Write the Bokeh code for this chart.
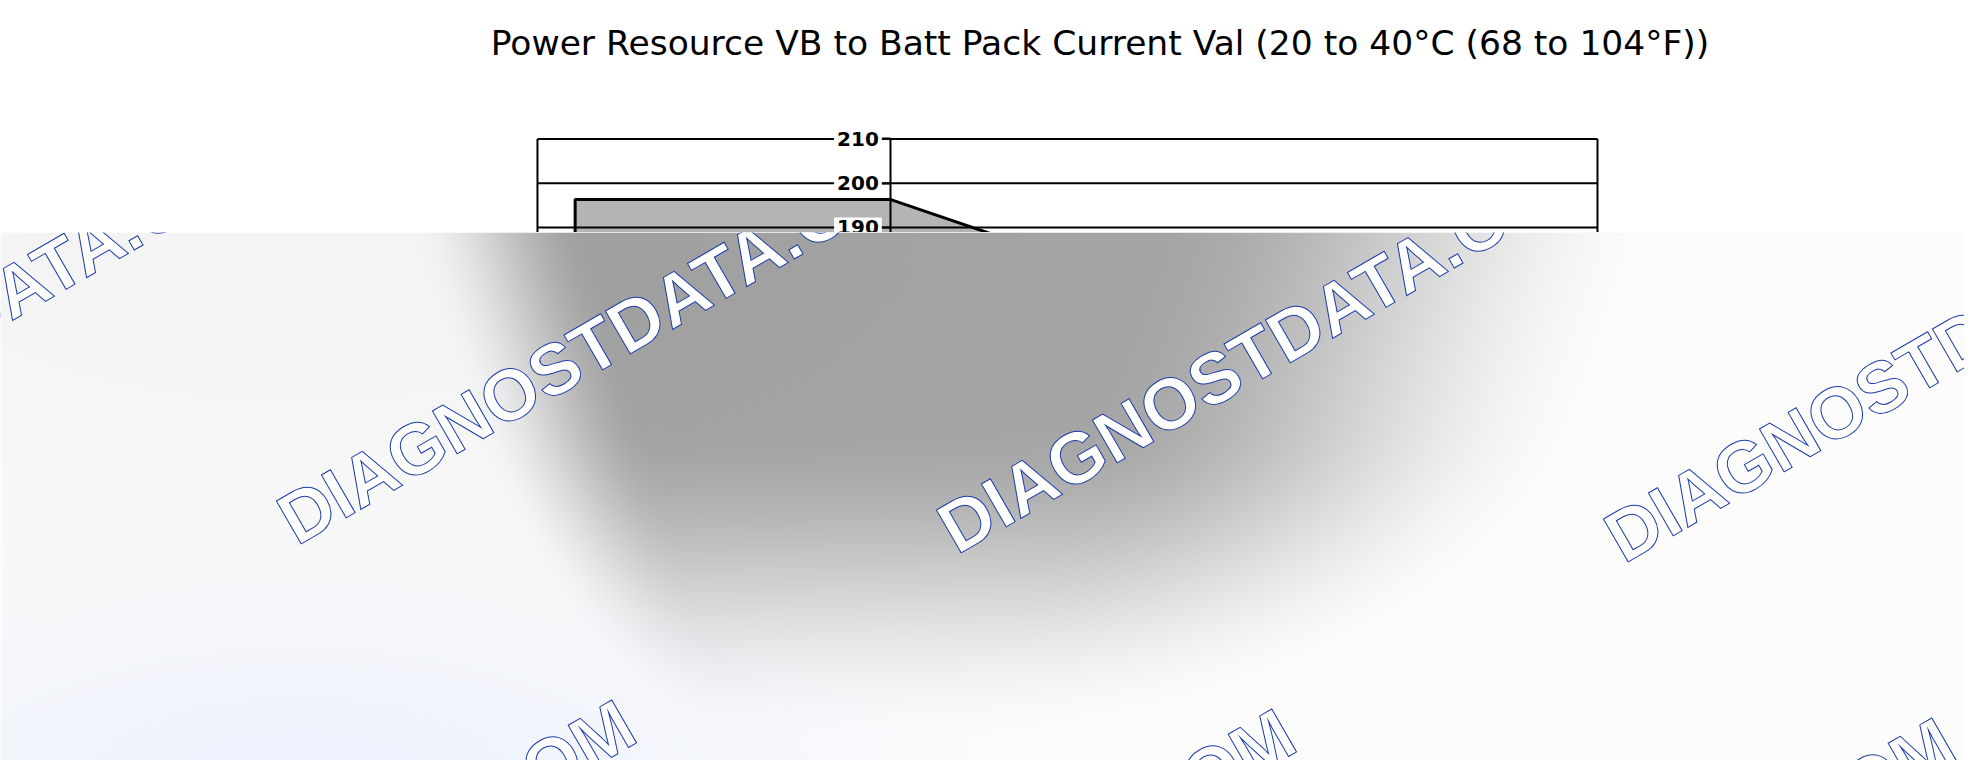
import numpy as np
from bokeh.core.properties import value
from bokeh.embed import file_html
from bokeh.layouts import column
from bokeh.models import FixedTicker, LinearAxis, Range1d
from bokeh.plotting import figure
from bokeh.resources import INLINE

TITLE = "Power Resource VB to Batt Pack Current Val (20 to 40°C (68 to 104°F))"

# y ticks still visible above the watermark band
y_ticks = [190, 200, 210]
y_labels = ["190", "200", "210"]

# chart box edges on x (the y axis sits at x = 0) and on y
x_box = [-30, 60]
y_box = [150, 210]

# shaded area outline (only the top of it is visible)
area_x = [-26.8, -26.8, 0, 30, 30]
area_y = [150, 196.3, 196.3, 169.1, 150]

# watermark text, anchor of each copy in page pixels
WM_TEXT = "DIAGNOSTDATA.COM"
wm_px = [-376, 284, 944, 1611, -28, 632, 1292]
wm_py = [515, 524, 533, 542, 1097, 1106, 1115]

W = 1964
H_TITLE, H_CHART, H_WM = 108, 124, 528
WM_TOP = H_TITLE + H_CHART


def blank(height, x_range, y_range):
    f = figure(width=W, height=height, x_range=x_range, y_range=y_range,
               x_axis_type=None, y_axis_type=None, toolbar_location=None, tools="",
               output_backend="svg", min_border=0)
    f.outline_line_color = None
    f.background_fill_color = "white"
    f.border_fill_color = "white"
    return f


def smooth(t):
    t = np.clip(t, 0, 1)
    return t * t * (3 - 2 * t)


# --- title strip
pt = blank(H_TITLE, Range1d(0, W), Range1d(0, H_TITLE))
pt.text(x=[1099.5], y=[H_TITLE - 42.7], text=[TITLE], text_align="center",
        text_baseline="alphabetic", text_font=value("DejaVu Sans"),
        text_font_size="34.5px", text_color="black")

# --- chart (top part only, the rest is under the watermark band)
# frame spans the whole strip: page x 0..1964, page y 108..232
p = blank(H_CHART, Range1d(-75.59, 91.16), Range1d(188.87, 216.89))

p.patch(area_x, area_y, fill_color="#b4b4b4", line_color="black", line_width=3)

# horizontal rules and the box sides
p.segment(x0=x_box[0], x1=x_box[1], y0=y_ticks, y1=y_ticks, line_color="black", line_width=2)
p.segment(x0=x_box, x1=x_box, y0=y_box[0], y1=y_box[1], line_color="black", line_width=2)

yaxis = LinearAxis(fixed_location=0, ticker=FixedTicker(ticks=y_ticks), bounds=tuple(y_box),
                   axis_line_color="black", axis_line_width=2,
                   major_tick_line_color="black", major_tick_line_width=2,
                   major_tick_out=9, major_tick_in=0, minor_tick_out=0, minor_tick_in=0,
                   major_label_overrides={t: "" for t in y_ticks})
p.add_layout(yaxis, "left")

p.text(x=[0] * len(y_ticks), y=y_ticks, text=y_labels, x_offset=-9,
       text_align="right", text_baseline="middle",
       text_font=value("DejaVu Sans"), text_font_style="bold", text_font_size="20px",
       text_color="black", background_fill_color="white", padding=3, level="annotation")

# --- watermark band (page y 232..760)
pw = blank(H_WM, Range1d(0, W), Range1d(0, H_WM))

step = 2
rows, cols = H_WM // step, W // step
yy, xx = np.mgrid[0:rows, 0:cols]
rx = (xx + 0.5) * step                    # page x
ry = WM_TOP + H_WM - (yy + 0.5) * step    # page y

# grey smudge: soft oval block, narrowing downwards, sharper on the left
left = 590 + 0.3 * (ry - 232)
right = 1150 - 0.35 * (ry - 232)
dx = np.where(rx < left, (left - rx) / 180, np.clip(rx - right, 0, None) / 520)
dy = np.clip(ry - 420, 0, None) / 320
shade = 85 * (1 - smooth(np.hypot(dx, dy)))
shade += 9 * np.exp(-(((rx - 300) / 800) ** 2 + ((ry - 232) / 330) ** 2))
tint = np.exp(-(((rx - 300) / 500) ** 2 + ((ry - 780) / 160) ** 2))

img = np.empty((rows, cols), dtype=np.uint32)
rgba = img.view(np.uint8).reshape((rows, cols, 4))
rgba[..., 0] = np.clip(253 - shade - 14 * tint, 0, 255)
rgba[..., 1] = np.clip(253 - shade - 10 * tint, 0, 255)
rgba[..., 2] = np.clip(253 - shade, 0, 255)
rgba[..., 3] = 255
pw.image_rgba(image=[img], x=0, y=0, dw=W, dh=H_WM)

pw.text(x=wm_px, y=[WM_TOP + H_WM - py for py in wm_py], text=[WM_TEXT] * len(wm_px),
        angle=np.radians(30), text_align="left", text_baseline="alphabetic",
        text_font=value("Liberation Sans"), text_font_style="bold", text_font_size="72px",
        text_color="white", text_outline_color="#1a3aa8")

layout = column(pt, p, pw, spacing=0)
open("out.html", "w").write(file_html(layout, INLINE))
